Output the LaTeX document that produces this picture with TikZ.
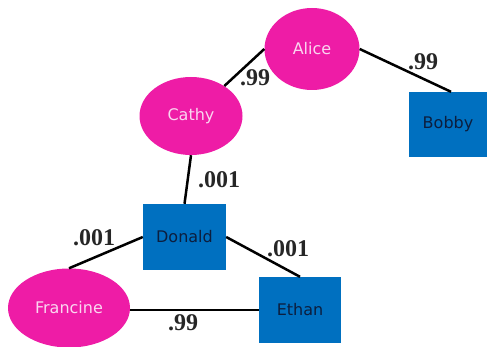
\documentclass[tikz,border=0pt]{standalone}
\usepackage{fontspec}
\setmainfont{Liberation Serif}
\newfontfamily\nodefont{DejaVu Sans}
\usetikzlibrary{shapes.geometric}
\definecolor{mag}{RGB}{238,28,166}
\definecolor{pinktext}{RGB}{250,214,240}
\definecolor{boxblue}{RGB}{0,112,192}
\definecolor{navytext}{RGB}{12,30,62}
\begin{document}
\begin{tikzpicture}[x=1pt,y=-1pt,
  person/.style={ellipse,fill=mag,draw=none,inner sep=0pt,text=pinktext,font=\nodefont\fontsize{16}{18}\selectfont},
  boxnode/.style={rectangle,fill=boxblue,draw=none,inner sep=0pt,text=navytext,font=\nodefont\fontsize{16}{18}\selectfont},
  link/.style={line width=2.5pt,black},
  prob/.style={font=\bfseries\fontsize{24}{26}\selectfont,inner sep=0pt,text=black!85}]
\useasboundingbox (0,0) rectangle (487,347);
\node[person,minimum width=95pt,minimum height=82pt] (alice) at (312,49) {Alice};
\node[person,minimum width=103pt,minimum height=78pt] (cathy) at (191,116) {Cathy};
\node[person,minimum width=122pt,minimum height=79pt] (francine) at (69,308) {Francine};
\node[boxnode,minimum width=78pt,minimum height=65pt] (bobby) at (448,124.5) {Bobby};
\node[boxnode,minimum width=83pt,minimum height=66pt] (donald) at (184.5,237) {Donald};
\node[boxnode,minimum width=82pt,minimum height=66pt] (ethan) at (300,310) {Ethan};
\draw[link] (alice.west) -- (cathy.42);
\draw[link] (alice.east) -- ([xshift=3pt]bobby.north);
\draw[link] (cathy.south) -- (donald.north);
\draw[link] (donald.west) -- (francine.north);
\draw[link] (donald.east) -- (ethan.north);
\draw[link] (francine.east |- ethan.west) -- (ethan.west);
\node[prob] (p1) at (255,78) {.99};
\node[prob] (p2) at (423,62) {.99};
\node[prob] (p3) at (219,180) {.001};
\node[prob] (p4) at (94,238) {.001};
\node[prob] (p5) at (288,249) {.001};
\node[prob] (p6) at (183,323) {.99};
\end{tikzpicture}
\end{document}
